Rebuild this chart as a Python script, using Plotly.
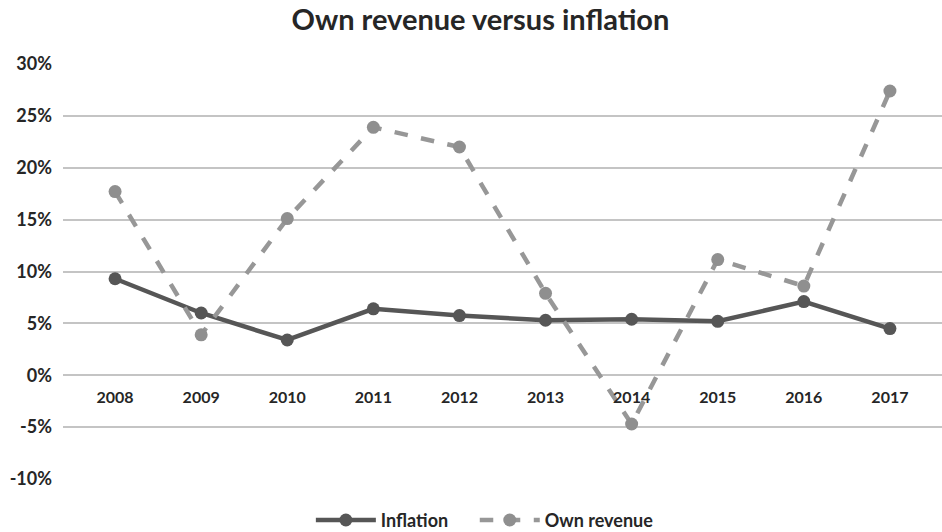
import plotly.graph_objects as go

years = ["2008", "2009", "2010", "2011", "2012", "2013", "2014", "2015", "2016", "2017"]
inflation = [9.3, 6.0, 3.4, 6.4, 5.75, 5.3, 5.4, 5.2, 7.1, 4.5]
own_revenue = [17.7, 3.9, 15.1, 23.9, 22.0, 7.9, -4.7, 11.15, 8.6, 27.4]

y_ticks = [-10, -5, 0, 5, 10, 15, 20, 25, 30]
y_tick_text = ["-10%", "-5%", "0%", "5%", "10%", "15%", "20%", "25%", "30%"]
y_min, y_max = -10, 30

font_family = "Lato, 'Open Sans', sans-serif"
text_color = "#262626"

fig = go.Figure()
fig.add_trace(go.Scatter(
    x=years, y=inflation, name="<b>Inflation</b>", mode="lines+markers",
    line=dict(color="#565656", width=4.5),
    marker=dict(color="#565656", size=13),
    legend="legend",
))
fig.add_trace(go.Scatter(
    x=years, y=own_revenue, name="<b>Own revenue</b>", mode="lines+markers",
    line=dict(color="#979797", width=4.5, dash="dash"),
    marker=dict(color="#8f8f8f", size=13),
    legend="legend2",
))

legend_style = dict(
    orientation="h",
    xref="container", xanchor="left",
    yref="container", y=0.022, yanchor="middle",
    itemwidth=60,
    font=dict(size=18, color=text_color, family=font_family),
)

fig.update_layout(
    width=942, height=532,
    margin=dict(l=63, r=0, t=64, b=53, autoexpand=False),
    paper_bgcolor="white", plot_bgcolor="white",
    font=dict(family=font_family, color=text_color),
    title=dict(
        text="<b>Own revenue versus inflation</b>",
        x=0.51, xanchor="center", y=0.962, yanchor="middle",
        font=dict(size=29, color=text_color, family=font_family),
    ),
    showlegend=True,
    legend=dict(x=0.33, **legend_style),
    legend2=dict(x=0.504, **legend_style),
    xaxis=dict(
        type="category", showgrid=False, zeroline=False, showline=False,
        anchor="free", position=(0 - y_min) / (y_max - y_min),
        tickvals=years, ticktext=["<b>%s</b>" % y for y in years],
        tickfont=dict(size=16, color=text_color, family=font_family),
        ticks="", ticklabelstandoff=11,
    ),
    yaxis=dict(
        range=[y_min, y_max], tickvals=y_ticks,
        ticktext=["<b>%s</b>" % t for t in y_tick_text],
        showgrid=True, gridcolor="#c4c4c4", gridwidth=2,
        zeroline=False, showline=False, ticks="",
        tickfont=dict(size=18, color=text_color, family=font_family),
        ticklabelstandoff=10,
    ),
)

fig.write_html("out.html")
